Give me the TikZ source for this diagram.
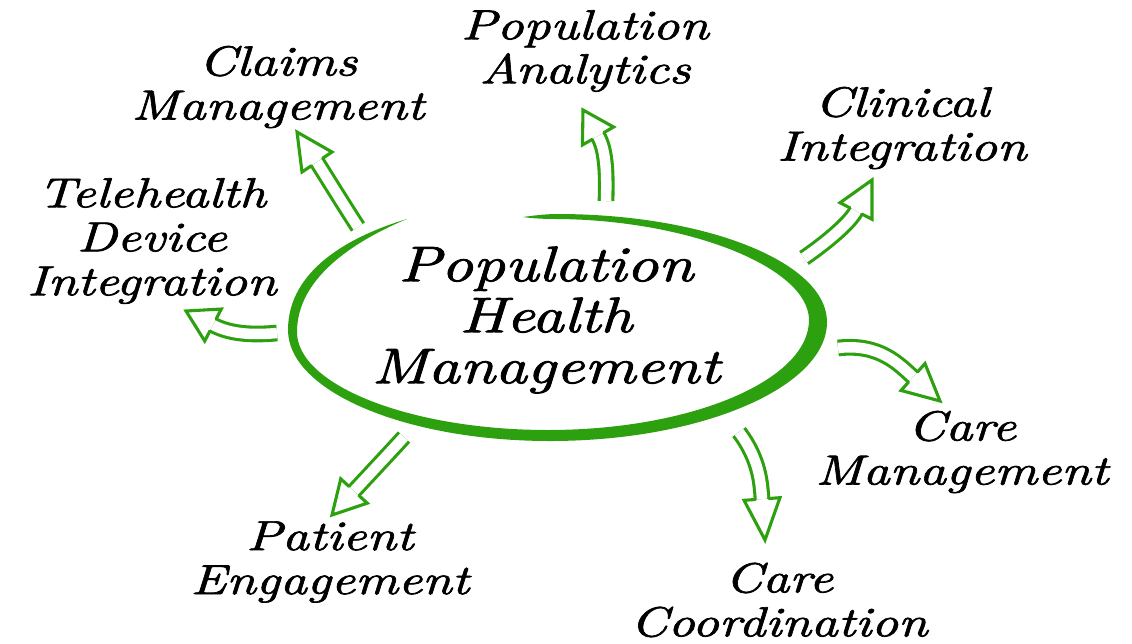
\documentclass[tikz,border=0pt]{standalone}
\usepackage{fontspec}
\usetikzlibrary{calc}
\newfontfamily\hand{lmroman10-italic.otf}[FakeStretch=1.25,FakeBold=1.6]
\definecolor{phmgreen}{RGB}{45,160,15}
\tikzset{
  lab/.style={font=\hand\fontsize{42}{44}\selectfont, align=center, inner sep=0pt, text=black},
  biglab/.style={lab, font=\hand\fontsize{50}{51}\selectfont},
  shaft/.style={draw=phmgreen, line width=3.1pt, double=white, double distance=10.5pt},
  headline/.style={draw=phmgreen, line width=3.1pt, line join=miter, line cap=round},
}
\newcommand\harrow[5]{% start, c1, base, tip, L
  \draw[shaft] (#1) .. controls (#2) and ($(#3)!-#5!(#4)$) .. (#3);
  \draw[headline] ($(#3)!6.8pt!90:(#4)$) -- ($(#3)!18pt!90:(#4)$) -- (#4) -- ($(#3)!18pt!-90:(#4)$) -- ($(#3)!6.8pt!-90:(#4)$);
}
\begin{document}
\begin{tikzpicture}[x=1pt,y=-1pt]
\useasboundingbox (0,0) rectangle (1132,643);
\fill[white] (0,0) rectangle (1132,643);

% brush-stroke ring
\fill[phmgreen]
  (407,219) .. controls (350,236) and (288,270) .. (288,330)
  .. controls (288,391) and (405,441) .. (550,441)
  .. controls (702,441) and (827,387) .. (827,322)
  .. controls (827,262) and (705,214) .. (557,214)
  .. controls (545,214) and (530,216) .. (523,217)
  .. controls (533,218.5) and (545,219) .. (557,219)
  .. controls (690,220) and (809,268) .. (809,320)
  .. controls (809,380) and (692,430) .. (548,430)
  .. controls (410,430) and (297,385) .. (297,332)
  .. controls (297,279) and (352,242) .. (407,219) -- cycle;

% labels
\node[biglab] (phm) at (546,320) {Population\\Health\\Management};
\node[lab] (claims) at (278,87) {Claims\\Management};
\node[lab] (analytics) at (585,51) {Population\\Analytics};
\node[lab] (clinical) at (902,128) {Clinical\\Integration};
\node[lab] (tele) at (152,241) {Telehealth\\Device\\Integration};
\node[lab] (caremgmt) at (962,452) {Care\\Management};
\node[lab] (patient) at (330,562) {Patient\\Engagement};
\node[lab] (carecoord) at (779,600) {Care\\Coordination};

% hollow arrows
\harrow{358,227}{350,215}{317,162}{297,132}{1pt}
\harrow{606,201}{607,170}{598,136}{583,110}{15pt}
\harrow{804,258}{830,240}{856,211}{872,180}{12pt}
\harrow{838,348}{880,343}{913,377}{940,401}{18pt}
\harrow{739,432}{760,460}{762,499}{765,540}{15pt}
\harrow{404,437}{395,447}{354,491}{332,515}{1pt}
\harrow{277,333}{245,336}{213,325}{186,311}{15pt}
\end{tikzpicture}
\end{document}
